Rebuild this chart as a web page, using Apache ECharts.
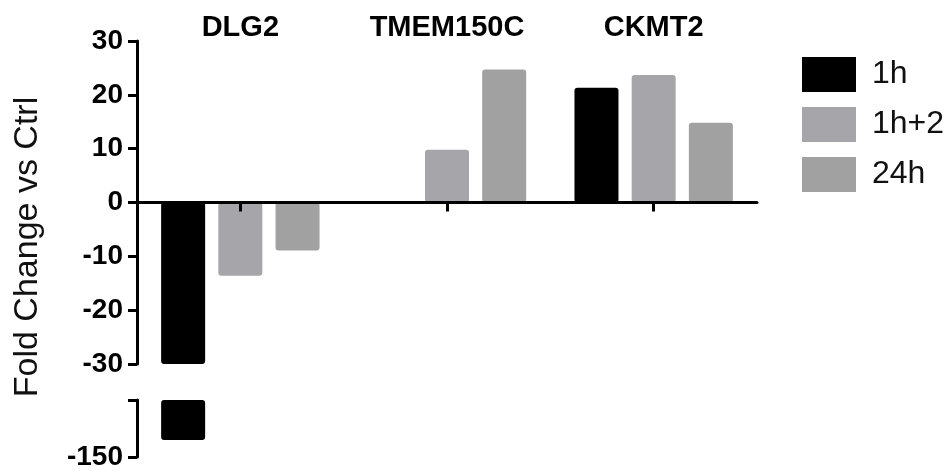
<!DOCTYPE html>
<html>
<head>
<meta charset="utf-8">
<style>
  html, body { margin: 0; padding: 0; background: #fff; }
  #chart { width: 950px; height: 471px; }
</style>
<script src="https://cdn.jsdelivr.net/npm/echarts@6/dist/echarts.min.js"></script>
</head>
<body>
<div id="chart"></div>
<script>
// genes along the x axis
var genes = ['DLG2', 'TMEM150C', 'CKMT2'];
// fold change vs ctrl for each time point
var h1 = [-144, null, 21.3];
var h1p2 = [-13.6, 9.8, 23.7];
var h24 = [-8.9, 24.7, 14.8];
var upperTicks = [-30, 30, 10];   // min, max, interval
var lowerTicks = [-150, -130, 20];

var font = '"Liberation Sans", Arial, sans-serif';
var colors = { '1h': '#000000', '1h+2': '#a6a6aa', '24h': '#a1a1a1' };

var chart = echarts.init(document.getElementById('chart'));

function bars(name, data, idx) {
  return {
    name: name,
    type: 'bar',
    xAxisIndex: idx === 0 ? 0 : 2,
    yAxisIndex: idx,
    data: data,
    barWidth: 44,
    barGap: '30%',
    clip: true,
    z: 1,
    itemStyle: { color: colors[name], borderRadius: 3 }
  };
}

var axisLineStyle = { color: '#000', width: 3 };

chart.setOption({
  animation: false,
  textStyle: { fontFamily: font },
  grid: [
    { left: 137, top: 41, width: 620, height: 323 },
    { left: 137, top: 400, width: 620, height: 58 }
  ],
  legend: {
    orient: 'vertical',
    left: 797,
    top: 52,
    itemWidth: 54,
    itemHeight: 35,
    itemGap: 15,
    icon: 'rect',
    data: ['1h', '1h+2', '24h'],
    textStyle: { fontSize: 32, color: '#111', fontFamily: font, padding: [0, 0, 0, 11] }
  },
  xAxis: [
    {
      type: 'category',
      gridIndex: 0,
      data: genes,
      zlevel: 1,
      z: 10,
      axisLine: { show: true, onZero: true, lineStyle: axisLineStyle },
      axisTick: { show: true, alignWithLabel: true, interval: 0, length: 9, lineStyle: { width: 3, color: '#000' } },
      axisLabel: {
        show: true, interval: 0, hideOverlap: false, showMinLabel: true, showMaxLabel: true,
        color: 'rgba(0,0,0,0)', fontSize: 10
      }
    },
    {
      type: 'category',
      gridIndex: 0,
      position: 'top',
      data: genes,
      axisLine: { show: false },
      axisTick: { show: false },
      axisLabel: {
        interval: 0, hideOverlap: false, showMinLabel: true, showMaxLabel: true,
        fontSize: 29, fontWeight: 'bold', color: '#000', margin: -1, fontFamily: font
      }
    },
    {
      type: 'category',
      gridIndex: 1,
      data: genes,
      show: false
    }
  ],
  yAxis: [
    {
      type: 'value',
      gridIndex: 0,
      min: upperTicks[0],
      max: upperTicks[1],
      interval: upperTicks[2],
      splitLine: { show: false },
      axisLine: { show: true, lineStyle: axisLineStyle },
      axisTick: { show: true, length: 9, lineStyle: { width: 3, color: '#000' } },
      axisLabel: { fontSize: 28, fontWeight: 'bold', color: '#000', margin: 14, fontFamily: font }
    },
    {
      type: 'value',
      gridIndex: 1,
      min: lowerTicks[0],
      max: lowerTicks[1],
      interval: lowerTicks[2],
      splitLine: { show: false },
      axisLine: { show: true, lineStyle: axisLineStyle },
      axisTick: { show: true, length: 9, lineStyle: { width: 3, color: '#000' } },
      axisLabel: {
        fontSize: 28, fontWeight: 'bold', color: '#000', margin: 14, fontFamily: font,
        formatter: function (v) { return v === lowerTicks[0] ? String(v) : ''; }
      }
    }
  ],
  graphic: [
    {
      type: 'text',
      x: 11,
      y: 247,
      rotation: Math.PI / 2,
      style: {
        text: 'Fold Change vs Ctrl',
        font: '34px ' + font,
        fill: '#111',
        textAlign: 'center',
        textVerticalAlign: 'top'
      }
    }
  ],
  series: [
    bars('1h', h1, 0),
    bars('1h+2', h1p2, 0),
    bars('24h', h24, 0),
    bars('1h', h1, 1),
    bars('1h+2', h1p2, 1),
    bars('24h', h24, 1)
  ]
});
</script>
</body>
</html>
